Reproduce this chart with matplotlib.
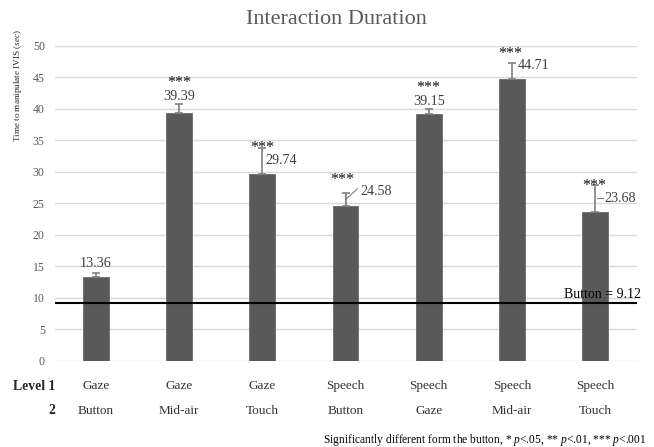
import matplotlib
matplotlib.use("Agg")
import matplotlib.pyplot as plt
from matplotlib.transforms import blended_transform_factory

plt.rcParams["font.family"] = ["Liberation Serif", "DejaVu Serif"]
plt.rcParams["mathtext.fontset"] = "custom"
plt.rcParams["mathtext.rm"] = "Liberation Serif"
plt.rcParams["mathtext.it"] = "Liberation Serif:italic"

# Data
level1 = ["Gaze", "Gaze", "Gaze", "Speech", "Speech", "Speech", "Speech"]
level2 = ["Button", "Mid-air", "Touch", "Button", "Gaze", "Mid-air", "Touch"]
means = [13.36, 39.39, 29.74, 24.58, 39.15, 44.71, 23.68]
errors = [0.5, 1.4, 4.1, 2.0, 0.9, 2.6, 4.2]
stars = ["", "***", "***", "***", "***", "***", "***"]
button_baseline = 9.12
yticks = [0, 5, 10, 15, 20, 25, 30, 35, 40, 45, 50]

# Label placement (pixel offsets from the error-bar cap): value label and stars
# (value dx, value dy, value ha, stars dx, stars dy)
label_layout = [
    (0, 10, "center", 0, 0),
    (0, 7, "center", 0, 21),
    (3, -13, "left", 0, 0),
    (15, 2, "left", -3, 13),
    (0, 7, "center", 0, 21),
    (6, -3, "left", -2, 9),
    (9, -13, "left", -1, -1),
]

W, H = 654, 447
fig = plt.figure(figsize=(W / 100, H / 100), dpi=100)
left, right = 54.5 / W, 636.5 / W
bottom, top = (H - 360.7) / H, (H - 46) / H
ax = fig.add_axes([left, bottom, right - left, top - bottom])

x = list(range(len(means)))
ax.bar(x, means, width=0.31, color="#595959", edgecolor="#6a6a6a",
       linewidth=0.6, zorder=2)
ax.errorbar(x, means, yerr=[[0] * len(errors), errors], fmt="none",
            ecolor="#808080", elinewidth=1.2, capsize=3, capthick=1.2,
            zorder=3)

ax.set_xlim(-0.5, len(means) - 0.5)
ax.set_ylim(0, 50)
ax.set_yticks(yticks)
ax.set_yticklabels([str(t) for t in yticks])
ax.set_xticks([])
ax.tick_params(axis="y", length=0, pad=7, labelsize=8.5, labelcolor="#595959")
ax.grid(axis="y", color="#d9d9d9", linewidth=1.0, zorder=0)
ax.set_axisbelow(True)
for s in ax.spines.values():
    s.set_visible(False)

# Reference line for the button condition
ax.axhline(button_baseline, color="black", linewidth=1.5, zorder=4)
ax.annotate(f"Button = {button_baseline:.2f}", xy=(1, button_baseline),
            xycoords=("axes fraction", "data"), xytext=(4, 2),
            textcoords="offset pixels", ha="right", va="bottom",
            fontsize=10, color="black", zorder=5)

# Value labels and significance stars
for i, (m, e, st, lay) in enumerate(zip(means, errors, stars, label_layout)):
    vdx, vdy, vha, sdx, sdy = lay
    cap = m + e
    ax.annotate(f"{m:.2f}", xy=(i, cap), xytext=(vdx, vdy),
                textcoords="offset pixels", ha=vha, va="center",
                fontsize=10.2, color="#404040", zorder=5)
    if st:
        ax.annotate(st, xy=(i, cap), xytext=(sdx, sdy),
                    textcoords="offset pixels", ha="center", va="center",
                    fontsize=11.5, color="#111111", zorder=5)

# Leader lines for labels set beside their bars
ax.annotate("", xy=(3, means[3] + 0.2), xytext=(3, means[3] + errors[3]),
            textcoords="data", zorder=4,
            arrowprops=dict(arrowstyle="-", color="#808080", lw=0.8,
                            shrinkA=0, shrinkB=0))
ax.annotate("", xy=(3, means[3] + 1.0), xytext=(12, 11),
            textcoords="offset pixels", zorder=4,
            arrowprops=dict(arrowstyle="-", color="#808080", lw=0.8,
                            shrinkA=0, shrinkB=0))
ax.plot([6.03, 6.1], [means[6] + errors[6] - 2.1] * 2, color="#808080",
        lw=0.8, zorder=4)

# Category rows below the axis
tr = blended_transform_factory(ax.transData, fig.transFigure)
for i, (a, b) in enumerate(zip(level1, level2)):
    fig.text(i, 1 - 386 / H, a, transform=tr, fontsize=9.5, color="#333333",
             ha="center", va="center")
    fig.text(i, 1 - 411 / H, b, transform=tr, fontsize=9.5, color="#333333",
             ha="center", va="center")
fig.text(55 / W, 1 - 386 / H, "Level 1", fontsize=9.8, fontweight="bold",
         ha="right", va="center", color="#262626")
fig.text(55 / W, 1 - 411 / H, "2", fontsize=9.8, fontweight="bold",
         ha="right", va="center", color="#262626")

# Title, axis label and footnote
fig.text(336 / W, 1 - 20 / H, "Interaction Duration", fontsize=16,
         color="#595959", ha="center", va="center")
fig.text(18 / W, 1 - 86 / H, "Time to manipulate IVIS ($\\mathit{sec}$)",
         rotation=90, fontsize=6.6, color="#262626", ha="center", va="center")
fig.text(647 / W, 1 - 440 / H,
         "Significantly different form the button, * $\\mathit{p}$<.05, "
         "** $\\mathit{p}$<.01, *** $\\mathit{p}$<.001",
         fontsize=8.3, color="black", ha="right", va="center")

fig.savefig("out.png", dpi=100)
